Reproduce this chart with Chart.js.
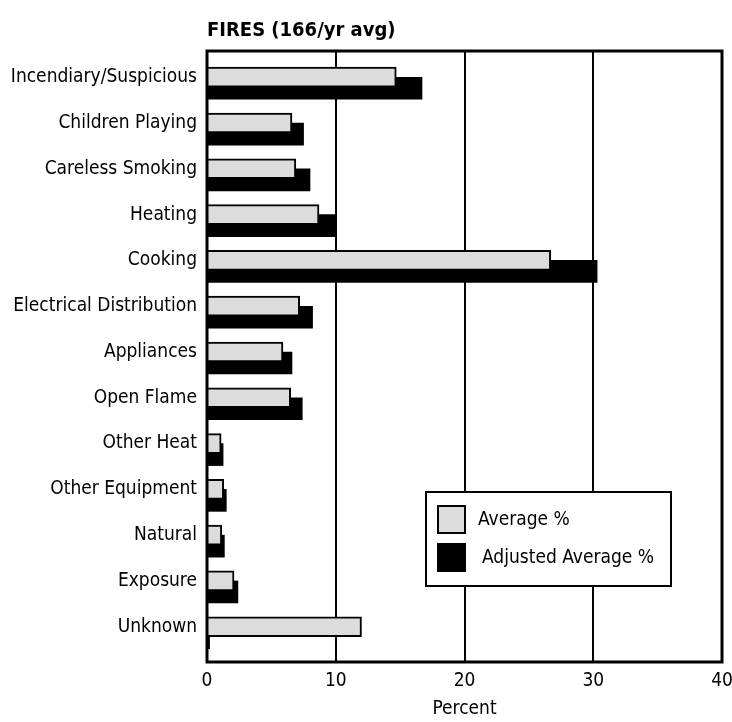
<!DOCTYPE html>
<html>
<head>
<meta charset="utf-8">
<script src="https://cdn.jsdelivr.net/npm/chart.js@4/dist/chart.umd.min.js"></script>
<style>
  html, body { margin: 0; padding: 0; background: #fff; }
  #wrap { width: 732px; height: 722px; }
</style>
</head>
<body>
<div id="wrap"><canvas id="fireChart" width="732" height="722"></canvas></div>
<script>
const categories = [
  'Incendiary/Suspicious', 'Children Playing', 'Careless Smoking', 'Heating',
  'Cooking', 'Electrical Distribution', 'Appliances', 'Open Flame',
  'Other Heat', 'Other Equipment', 'Natural', 'Exposure', 'Unknown'
];
const averagePct = [14.7, 6.6, 6.9, 8.7, 26.7, 7.2, 5.9, 6.5, 1.1, 1.3, 1.15, 2.1, 12.0];
const adjustedPct = [16.7, 7.5, 8.0, 10.0, 30.3, 8.2, 6.6, 7.4, 1.25, 1.5, 1.35, 2.4, 0.2];
const xTicks = [0, 10, 20, 30, 40];

const font = "'Liberation Sans Narrow', 'DejaVu Sans Condensed', 'Liberation Sans', sans-serif";

// frame round the plot area
const framePlugin = {
  id: 'frame',
  afterDatasetsDraw(chart) {
    const a = chart.chartArea;
    const c = chart.ctx;
    c.save();
    c.strokeStyle = '#000';
    c.lineWidth = 3;
    c.strokeRect(a.left, a.top, a.right - a.left, a.bottom - a.top);
    c.restore();
  }
};

// boxed legend inside the plot
const boxLegend = {
  id: 'boxLegend',
  afterDraw(chart) {
    const c = chart.ctx;
    const sets = chart.data.datasets;
    c.save();
    c.fillStyle = '#fff';
    c.fillRect(426, 492, 245, 94);
    c.strokeStyle = '#000';
    c.lineWidth = 2;
    c.strokeRect(426, 492, 245, 94);
    c.font = '19px ' + font;
    c.textBaseline = 'middle';
    sets.forEach((ds, i) => {
      const y = 506 + i * 38;
      c.fillStyle = ds.backgroundColor;
      c.fillRect(438, y, 27, 27);
      c.strokeStyle = '#000';
      c.lineWidth = 2;
      c.strokeRect(438, y, 27, 27);
      c.fillStyle = '#000';
      c.fillText(ds.label, 478 + i * 4, y + 14);
    });
    c.restore();
  }
};

new Chart(document.getElementById('fireChart'), {
  type: 'bar',
  data: {
    datasets: [
      {
        label: 'Average %',
        data: averagePct.map((v, i) => ({ x: v, y: i })),
        backgroundColor: '#dcdcdc',
        borderColor: '#000',
        borderWidth: 2,
        barThickness: 20,
        grouped: false,
        yAxisID: 'y'
      },
      {
        label: 'Adjusted Average %',
        data: adjustedPct.map((v, i) => ({ x: v, y: i })),
        backgroundColor: '#000',
        borderWidth: 0,
        barThickness: 22,
        grouped: false,
        yAxisID: 'y2'
      }
    ]
  },
  options: {
    indexAxis: 'y',
    responsive: false,
    animation: false,
    layout: { padding: { right: 0, bottom: 0 } },
    plugins: {
      legend: { display: false },
      tooltip: { enabled: false },
      title: {
        display: true,
        text: 'FIRES (166/yr avg)',
        align: 'start',
        fullSize: false,
        color: '#000',
        font: { family: font, size: 20, weight: 'bold' },
        padding: { top: 19, bottom: 8 }
      }
    },
    scales: {
      x: {
        type: 'linear',
        min: 0,
        max: 40,
        afterBuildTicks: ax => { ax.ticks = xTicks.map(v => ({ value: v })); },
        grid: { color: '#000', lineWidth: 2, drawTicks: false },
        border: { display: false },
        ticks: { color: '#000', padding: 8, font: { family: font, size: 19 } },
        title: { display: true, text: 'Percent', color: '#000', font: { family: font, size: 19 }, padding: { top: 4, bottom: 2 } },
        afterFit: s => { s.height = 60; s.paddingRight = 10; }
      },
      y: {
        type: 'linear',
        offset: false,
        min: -0.572,
        max: 12.77,
        reverse: true,
        afterBuildTicks: ax => { ax.ticks = categories.map((c, i) => ({ value: i })); },
        grid: { display: false, drawTicks: false, offset: false },
        border: { display: false },
        ticks: {
          color: '#000',
          padding: 10,
          autoSkip: false,
          font: { family: font, size: 19 },
          callback: v => categories[v]
        },
        afterFit: s => { s.width = 207; }
      },
      y2: {
        type: 'linear',
        offset: false,
        min: -0.814,
        max: 12.53,
        reverse: true,
        display: false
      }
    }
  },
  plugins: [framePlugin, boxLegend]
});
</script>
</body>
</html>
